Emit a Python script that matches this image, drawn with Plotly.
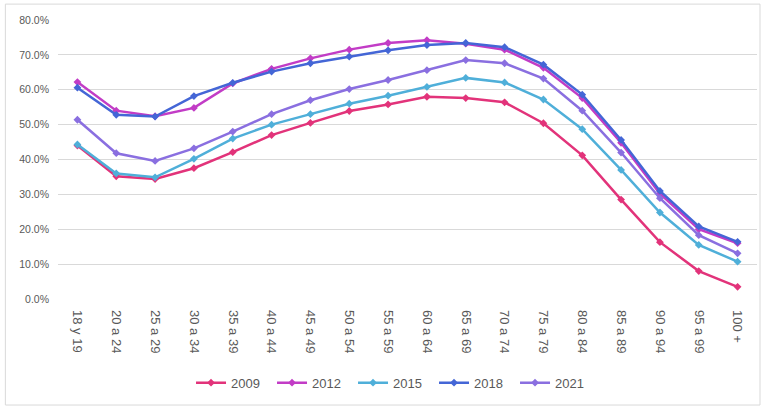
import plotly.graph_objects as go

categories = ["18 y 19", "20 a 24", "25 a 29", "30 a 34", "35 a 39", "40 a 44", "45 a 49",
              "50 a 54", "55 a 59", "60 a 64", "65 a 69", "70 a 74", "75 a 79", "80 a 84",
              "85 a 89", "90 a 94", "95 a 99", "100 +"]

v2009 = [44.0, 35.2, 34.4, 37.5, 42.1, 47.0, 50.5, 53.9, 55.8, 58.0, 57.6, 56.4, 50.4, 41.2, 28.5, 16.3, 8.0, 3.5]
v2012 = [62.2, 54.0, 52.4, 54.8, 61.8, 66.0, 69.0, 71.5, 73.4, 74.2, 73.2, 71.5, 66.3, 57.6, 44.8, 30.2, 20.0, 16.0]
v2015 = [44.3, 36.0, 34.9, 40.2, 46.0, 50.0, 53.0, 56.0, 58.3, 60.8, 63.4, 62.1, 57.2, 48.7, 37.0, 24.8, 15.5, 10.7]
v2018 = [60.6, 52.8, 52.3, 58.2, 62.0, 65.2, 67.6, 69.5, 71.3, 72.8, 73.4, 72.2, 67.2, 58.6, 45.6, 31.0, 20.8, 16.4]
v2021 = [51.4, 41.8, 39.6, 43.2, 48.0, 53.0, 57.0, 60.2, 62.8, 65.6, 68.5, 67.6, 63.2, 54.0, 42.0, 28.9, 18.3, 13.1]

series = [
    ("2009", v2009, "#E2337A"),
    ("2012", v2012, "#C23CC6"),
    ("2015", v2015, "#4FAFD9"),
    ("2018", v2018, "#4466D6"),
    ("2021", v2021, "#8A6FE0"),
]

fig = go.Figure()
for name, vals, color in series:
    fig.add_trace(go.Scatter(
        x=categories, y=[v / 100 for v in vals], name=name, mode="lines+markers",
        line=dict(color=color, width=2.5),
        marker=dict(symbol="diamond", size=6, color=color),
    ))

fig.update_layout(
    width=762, height=407,
    margin=dict(l=58, r=5, t=20, b=108),
    paper_bgcolor="white", plot_bgcolor="white",
    font=dict(family="Liberation Sans", color="#595959"),
    showlegend=True,
    legend=dict(orientation="h", x=0.48, xanchor="center", y=-0.30, yanchor="middle",
                font=dict(size=13, color="#595959"), itemwidth=30, entrywidth=36),
    xaxis=dict(type="category", range=[-0.5, 17.5], tickangle=90, showgrid=False,
               showline=False, ticks="", automargin=False, ticklabelstandoff=10,
               tickfont=dict(size=13, color="#595959")),
    yaxis=dict(range=[0, 0.8], dtick=0.1, tickformat=".1%", showgrid=True,
               gridcolor="#D9D9D9", gridwidth=1, zeroline=False, showline=False,
               ticks="", automargin=False, ticklabelstandoff=8,
               tickfont=dict(size=10.5, color="#595959")),
    shapes=[dict(type="rect", xref="paper", yref="paper",
                 x0=-0.0753, x1=1.0043, y0=-0.38, y1=1.057,
                 line=dict(color="#D9D9D9", width=1), fillcolor="rgba(0,0,0,0)", layer="below")],
)

fig.write_html("out.html", config={"displayModeBar": False},
               post_script="document.body.style.margin='0px';")
